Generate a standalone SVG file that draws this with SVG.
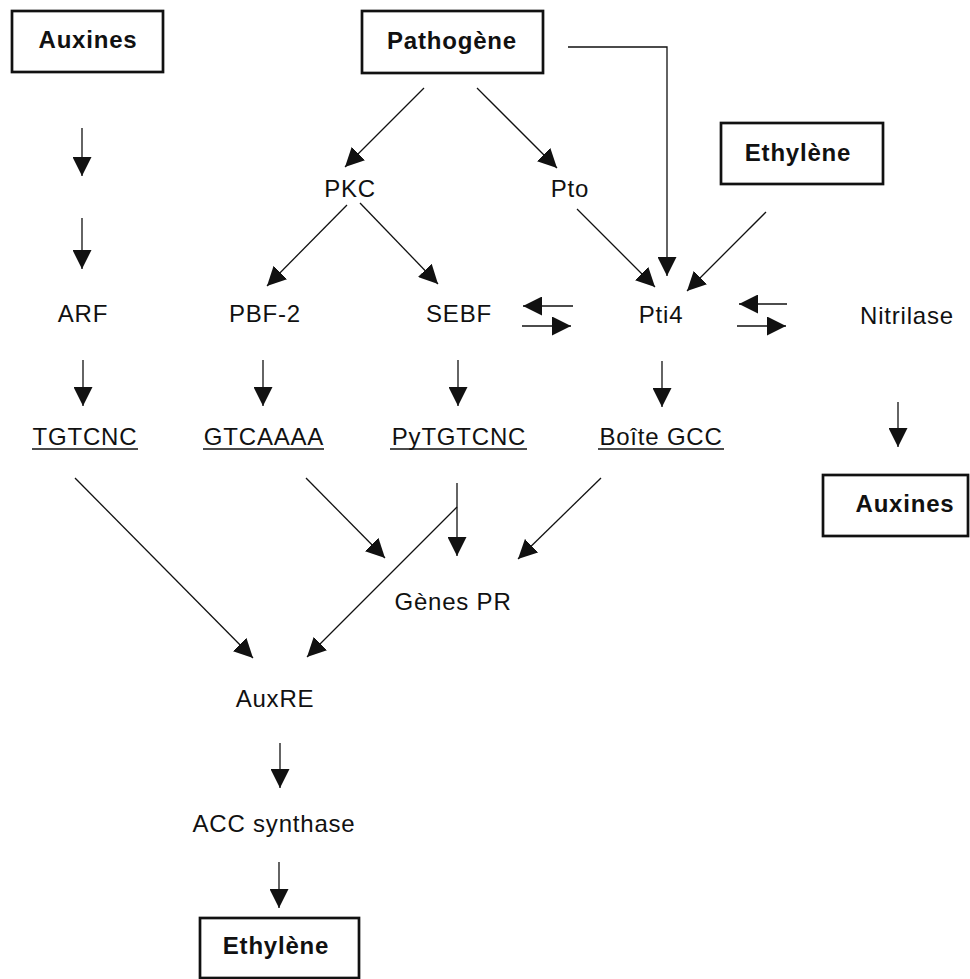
<svg xmlns="http://www.w3.org/2000/svg" width="970" height="979" viewBox="0 0 970 979">
  <style>
    .box { fill: #fff; stroke: #111; stroke-width: 2.7; }
    .lbl { font-family: "Liberation Sans", Arial, sans-serif; font-size: 24px; letter-spacing: 0.8px; fill: #111; text-anchor: middle; }
    .bold { font-weight: bold; }
    .ul { stroke: #111; stroke-width: 1.3; }
    .conn line, .conn polyline { stroke: #111; stroke-width: 1.3; fill: none; marker-end: url(#head); }
  </style>
  <defs>
    <marker id="head" viewBox="0 0 19 19" refX="19" refY="9.5" markerWidth="19" markerHeight="19" markerUnits="userSpaceOnUse" orient="auto">
      <path d="M0,0 L19,9.5 L0,19 Z" fill="#111"/>
    </marker>
  </defs>
  <rect width="970" height="979" fill="#fff"/>

  <!-- boxed inputs / outputs -->
  <g id="auxines-top">
    <rect class="box" x="12" y="11" width="151" height="61"/>
    <text class="lbl bold" x="88" y="48">Auxines</text>
  </g>
  <g id="pathogene">
    <rect class="box" x="362" y="11" width="181" height="62"/>
    <text class="lbl bold" x="452" y="49">Pathogène</text>
  </g>
  <g id="ethylene-top">
    <rect class="box" x="721" y="123" width="162" height="61"/>
    <text class="lbl bold" x="798" y="161">Ethylène</text>
  </g>
  <g id="auxines-right">
    <rect class="box" x="823" y="475" width="145" height="61"/>
    <text class="lbl bold" x="905" y="512">Auxines</text>
  </g>
  <g id="ethylene-bottom">
    <rect class="box" x="200" y="918" width="159" height="60"/>
    <text class="lbl bold" x="276" y="954">Ethylène</text>
  </g>

  <!-- plain labels -->
  <g id="pkc"><text class="lbl" x="350" y="197">PKC</text></g>
  <g id="pto"><text class="lbl" x="570" y="197">Pto</text></g>
  <g id="arf"><text class="lbl" x="83" y="322">ARF</text></g>
  <g id="pbf2"><text class="lbl" x="265" y="322">PBF-2</text></g>
  <g id="sebf"><text class="lbl" x="459" y="322">SEBF</text></g>
  <g id="pti4"><text class="lbl" x="661" y="323">Pti4</text></g>
  <g id="nitrilase"><text class="lbl" x="907" y="324">Nitrilase</text></g>

  <!-- promoter elements (underlined) -->
  <g id="tgtcnc">
    <text class="lbl" x="85" y="445">TGTCNC</text>
    <line class="ul" x1="32" y1="449" x2="138" y2="449"/>
  </g>
  <g id="gtcaaaa">
    <text class="lbl" x="264" y="445">GTCAAAA</text>
    <line class="ul" x1="203" y1="449" x2="324" y2="449"/>
  </g>
  <g id="pytgtcnc">
    <text class="lbl" x="459" y="445">PyTGTCNC</text>
    <line class="ul" x1="390" y1="449" x2="527" y2="449"/>
  </g>
  <g id="boite-gcc">
    <text class="lbl" x="661" y="445">Boîte GCC</text>
    <line class="ul" x1="598" y1="449" x2="724" y2="449"/>
  </g>

  <g id="genes-pr"><text class="lbl" x="453" y="610">Gènes PR</text></g>
  <g id="auxre"><text class="lbl" x="275" y="707">AuxRE</text></g>
  <g id="acc-synthase"><text class="lbl" x="274" y="832">ACC synthase</text></g>

  <!-- connectors -->
  <g id="connectors" class="conn">
    <line x1="82" y1="128" x2="82" y2="176"/>
    <line x1="82" y1="218" x2="82" y2="269"/>
    <line x1="83" y1="360" x2="83" y2="406"/>
    <line x1="263" y1="360" x2="263" y2="406"/>
    <line x1="458" y1="360" x2="458" y2="406"/>
    <line x1="662" y1="361" x2="662" y2="407"/>
    <line x1="898" y1="402" x2="898" y2="447"/>

    <line x1="424" y1="88" x2="345" y2="167"/>
    <line x1="477" y1="88" x2="557" y2="168"/>
    <line x1="347" y1="205" x2="267" y2="286"/>
    <line x1="360" y1="203" x2="438" y2="284"/>
    <line x1="577" y1="209" x2="655" y2="287"/>
    <polyline points="568,47 667,47 667,276"/>
    <line x1="766" y1="212" x2="687" y2="291"/>

    <line x1="573" y1="306" x2="523" y2="306"/>
    <line x1="522" y1="326" x2="571" y2="326"/>
    <line x1="787" y1="304" x2="739" y2="304"/>
    <line x1="737" y1="326" x2="786" y2="326"/>

    <line x1="75" y1="478" x2="253" y2="658"/>
    <line x1="306" y1="478" x2="385" y2="558"/>
    <line x1="457" y1="483" x2="457" y2="556"/>
    <line x1="457" y1="507" x2="307" y2="657"/>
    <line x1="601" y1="478" x2="518" y2="559"/>

    <line x1="280" y1="743" x2="280" y2="788"/>
    <line x1="279" y1="862" x2="279" y2="908"/>
  </g>
</svg>
